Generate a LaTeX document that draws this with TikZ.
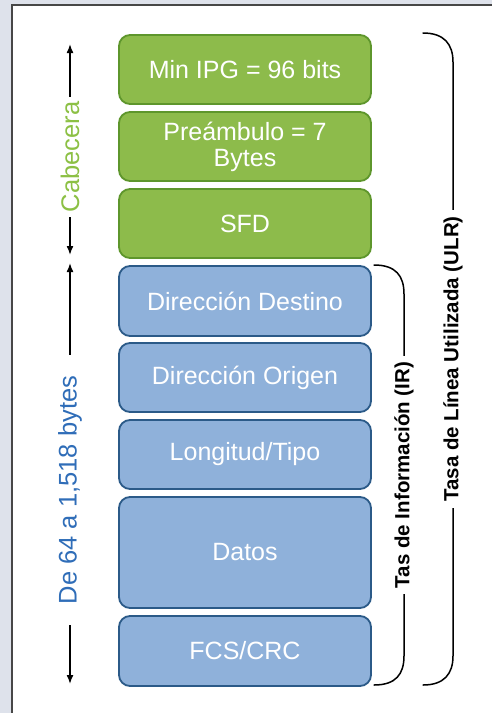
\documentclass[tikz,border=0pt]{standalone}
\usepackage{fontspec}
\setmainfont{Liberation Sans}
\usetikzlibrary{calc}
\usetikzlibrary{shapes,arrows.meta}

\definecolor{cabverde}{HTML}{8DBB4B}
\definecolor{cabborde}{HTML}{5E962C}
\definecolor{datazul}{HTML}{8FB1DA}
\definecolor{datborde}{HTML}{2B5A88}
\definecolor{fondo}{HTML}{DEE2EB}
\definecolor{cabtexto}{HTML}{8CC044}
\definecolor{bytetexto}{HTML}{2F6DB8}

\begin{document}
\begin{tikzpicture}[x=1pt,y=-1pt,
    campo/.style={rounded corners=11pt, line width=1.8pt, text=white,
      minimum width=252pt, inner sep=0pt, align=center,
      font=\fontsize{25}{26}\selectfont},
    verde/.style={campo, fill=cabverde, draw=cabborde},
    azul/.style={campo, fill=datazul, draw=datborde},
    medida/.style={rotate=90, inner ysep=2pt, font=\fontsize{25.5}{27}\selectfont},
    flecha/.style={line width=1.5pt,-{Latex[length=9pt,width=7pt]}},
    llave/.style={line width=1.5pt, line cap=round},
    tasa/.style={rotate=90, fill=white, inner xsep=6pt, inner ysep=1pt,
      font=\bfseries\fontsize{20.5}{22}\selectfont}]
    \useasboundingbox (0,0) rectangle (492,713);
    \fill [fondo] (0,0) rectangle (492,713);
    \draw [fill=white, draw=black!72, line width=2pt] (12,5) rectangle (505,730);
    % trama
    \node [verde, minimum height=69pt] (ipg) at (245,69.5) {Min IPG = 96 bits};
    \node [verde, minimum height=69pt] (pre) at (245,146.5) {Preámbulo = 7\\Bytes};
    \node [verde, minimum height=69pt] (sfd) at (245,223.5) {SFD};
    \node [azul, minimum height=70pt] (dst) at (245,301) {Dirección Destino};
    \node [azul, minimum height=69pt] (org) at (245,377.5) {Dirección Origen};
    \node [azul, minimum height=69pt] (tipo) at (245,454.5) {Longitud/Tipo};
    \node [azul, minimum height=111pt] (datos) at (245,552.5) {Datos};
    \node [azul, minimum height=70pt] (fcs) at (245,651) {FCS/CRC};
    % medidas
    \coordinate (C0) at (70,44);
    \coordinate (C1) at (70,255);
    \coordinate (D0) at (70,263);
    \coordinate (D1) at (70,684);
    \node [medida, text=cabtexto, inner xsep=5pt] (cab) at (70,157) {Cabecera};
    \node [medida, text=bytetexto, inner xsep=21pt] (bytes) at (70,490) {De 64 a 1,518 bytes};
      \draw [flecha] (cab) -- (C0);
      \draw [flecha] (cab) -- (C1);
      \draw [flecha] (bytes) -- (D0);
      \draw [flecha] (bytes) -- (D1);
    % llaves
    \coordinate (I0) at (374,265);
    \coordinate (I1) at (374,685);
    \coordinate (U0) at (423,33);
    \coordinate (U1) at (423,685);
      \draw [llave] (I0) .. controls (396,265) and (404,276) .. (404,294)
        -- node [tasa] (ir) {Tas de Información (IR)} (404,656)
        .. controls (404,674) and (396,685) .. (I1);
      \draw [llave] (U0) .. controls (444,33) and (453,44) .. (453,62)
        -- node [tasa] (ulr) {Tasa de Línea Utilizada (ULR)} (453,656)
        .. controls (453,674) and (444,685) .. (U1);
  \end{tikzpicture}
\end{document}
